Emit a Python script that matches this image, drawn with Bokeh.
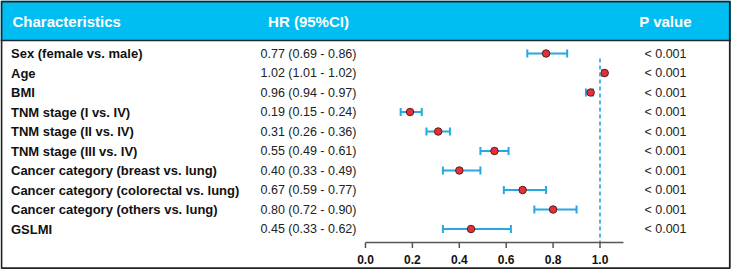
from bokeh.plotting import figure
from bokeh.models import Range1d, ColumnDataSource, Whisker, TeeHead
from bokeh.core.properties import value
from bokeh.embed import file_html
from bokeh.resources import INLINE

# ---------------- data ----------------
characteristics = [
    "Sex (female vs. male)",
    "Age",
    "BMI",
    "TNM stage (I vs. IV)",
    "TNM stage (II vs. IV)",
    "TNM stage (III vs. IV)",
    "Cancer category (breast vs. lung)",
    "Cancer category (colorectal vs. lung)",
    "Cancer category (others vs. lung)",
    "GSLMI",
]
hr = [0.77, 1.02, 0.96, 0.19, 0.31, 0.55, 0.40, 0.67, 0.80, 0.45]
ci_low = [0.69, 1.01, 0.94, 0.15, 0.26, 0.49, 0.33, 0.59, 0.72, 0.33]
ci_high = [0.86, 1.02, 0.97, 0.24, 0.36, 0.61, 0.49, 0.77, 0.90, 0.62]
p_values = ["< 0.001"] * 10
x_ticks = [0.0, 0.2, 0.4, 0.6, 0.8, 1.0]
axis_end = 1.1
ref_line = 1.0
headers = ["Characteristics", "HR (95%CI)", "P value"]

# ---------------- layout helpers ----------------
W, H = 731, 270
X0_PX, PX_PER_UNIT = 365.0, 234.5       # pixel of x=0, pixels per unit
ROW0_PX, ROW_PX = 53.0, 19.5            # pixel of first row, row spacing


def px_x(px):
    return (px - X0_PX) / PX_PER_UNIT


def px_y(py):
    return (py - ROW0_PX) / ROW_PX


FONT = value("Liberation Sans")

p = figure(width=W, height=H, output_backend="svg", toolbar_location=None,
           x_range=Range1d(px_x(0), px_x(W)),
           y_range=Range1d(px_y(H), px_y(0)),
           min_border=0, min_border_left=0, min_border_right=0,
           min_border_top=0, min_border_bottom=0)
p.axis.visible = False
p.xgrid.visible = False
p.ygrid.visible = False
p.outline_line_color = None
p.background_fill_color = "white"
p.border_fill_color = "white"

rows = list(range(len(characteristics)))
n = len(rows)

# header band
p.quad(left=px_x(0), right=px_x(W), top=px_y(0), bottom=px_y(40),
       fill_color="#00BDF2", line_color=None)
p.segment(x0=px_x(0), x1=px_x(W), y0=px_y(40), y1=px_y(40),
          line_color="#1E2A33", line_width=1.5)
# outer border
p.quad(left=px_x(1), right=px_x(729.3), top=px_y(1), bottom=px_y(267.7),
       fill_color=None, line_color="#222222", line_width=1.8)

# header texts
p.text(x=[px_x(12)], y=[px_y(21)], text=[headers[0]], text_font=FONT,
       text_font_size=value("15px"), text_font_style="bold",
       text_color="white", text_align="left", text_baseline="middle")
p.text(x=[px_x(308)], y=[px_y(21)], text=[headers[1]], text_font=FONT,
       text_font_size=value("15px"), text_font_style="bold",
       text_color="white", text_align="center", text_baseline="middle")
p.text(x=[px_x(665)], y=[px_y(21)], text=[headers[2]], text_font=FONT,
       text_font_size=value("15px"), text_font_style="bold",
       text_color="white", text_align="center", text_baseline="middle")

# table columns
hr_text = ["%.2f (%.2f - %.2f)" % (a, b, c) for a, b, c in zip(hr, ci_low, ci_high)]
src = ColumnDataSource(dict(
    y=rows, name=characteristics, hr=hr, lo=ci_low, hi=ci_high,
    hr_text=hr_text, p=p_values,
    xl=[px_x(10.5)] * n, xh=[px_x(308)] * n, xp=[px_x(665)] * n,
))
p.text(x="xl", y="y", text="name", source=src, text_font=FONT,
       text_font_size=value("13px"), text_font_style="bold",
       text_color="#111111", text_align="left", text_baseline="middle")
p.text(x="xh", y="y", text="hr_text", source=src, text_font=FONT,
       text_font_size=value("12.5px"), text_color="#222222",
       text_align="center", text_baseline="middle")
p.text(x="xp", y="y", text="p", source=src, text_font=FONT,
       text_font_size=value("12.5px"), text_color="#222222",
       text_align="center", text_baseline="middle")

# reference dashed line
p.segment(x0=ref_line, x1=ref_line, y0=px_y(58), y1=px_y(242),
          line_color="#22A4E0", line_width=1.6, line_dash="4 3")

# CI whiskers
wcol = "#27A8E0"
w = Whisker(source=src, base="y", lower="lo", upper="hi", dimension="width",
            line_color=wcol, line_width=2,
            lower_head=TeeHead(size=8, line_color=wcol, line_width=2),
            upper_head=TeeHead(size=8, line_color=wcol, line_width=2))
p.add_layout(w)

# point estimates
p.scatter(x="hr", y="y", source=src, size=7.5, fill_color="#E3303A",
          line_color="#5A1C1C", line_width=1)

# x axis drawn on the data scale
ay = px_y(242)
p.segment(x0=0, x1=axis_end, y0=ay, y1=ay, line_color="#555555", line_width=1.5)
p.segment(x0=x_ticks, x1=x_ticks, y0=[ay] * len(x_ticks),
          y1=[px_y(247.5)] * len(x_ticks), line_color="#555555", line_width=1.5)
p.text(x=x_ticks, y=[px_y(259)] * len(x_ticks),
       text=["%.1f" % t for t in x_ticks], text_font=FONT,
       text_font_size=value("12px"), text_font_style="bold",
       text_color="#111111", text_align="center", text_baseline="middle")

open("out.html", "w").write(file_html(p, INLINE))
